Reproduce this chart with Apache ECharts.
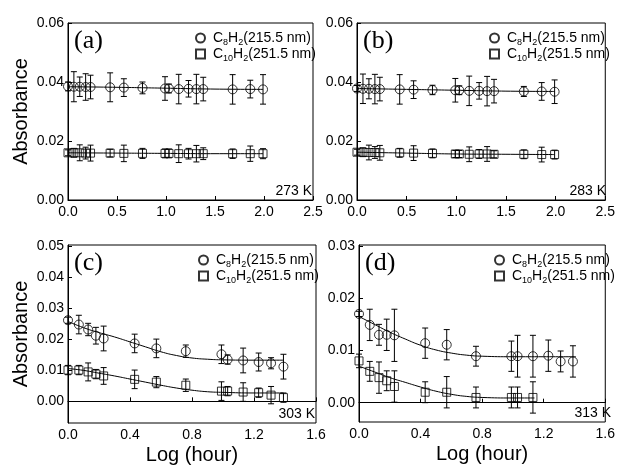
<!DOCTYPE html>
<html>
<head>
<meta charset="utf-8">
<script src="https://cdn.jsdelivr.net/npm/echarts@6/dist/echarts.min.js"></script>
<style>
  html, body { margin: 0; padding: 0; background: #fff; }
  #chart { width: 618px; height: 466px; }
</style>
</head>
<body>
<div id="chart"></div>
<script>
// x positions (log hour)
const xTop = [0, 0.06, 0.12, 0.18, 0.23, 0.43, 0.57, 0.76, 0.99, 1.03, 1.13, 1.23, 1.31, 1.38, 1.68, 1.86, 1.99];
const xBottom = [0, 0.07, 0.13, 0.18, 0.23, 0.43, 0.57, 0.76, 0.99, 1.03, 1.13, 1.23, 1.31, 1.39];

// (a) 273 K
const a_c8 = [0.0385, 0.0384, 0.0384, 0.0383, 0.0383, 0.0382, 0.0381, 0.0380, 0.0378, 0.0378, 0.0376, 0.0377, 0.0376, 0.0376, 0.0375, 0.0376, 0.0375];
const a_c8_err = [0.0015, 0.0051, 0.0033, 0.0045, 0.004, 0.0049, 0.003, 0.002, 0.004, 0.0015, 0.005, 0.0028, 0.005, 0.004, 0.005, 0.003, 0.005];
const a_c10 = [0.0160, 0.0160, 0.0160, 0.0159, 0.0159, 0.0159, 0.0158, 0.0158, 0.0158, 0.0158, 0.0157, 0.0157, 0.0157, 0.0157, 0.0157, 0.0157, 0.0157];
const a_c10_err = [0.001, 0.0015, 0.0027, 0.002, 0.0027, 0.0013, 0.0028, 0.0017, 0.0015, 0.0015, 0.003, 0.0018, 0.0028, 0.002, 0.0016, 0.0026, 0.0017];

// (b) 283 K
const b_c8 = [0.0378, 0.0377, 0.0377, 0.0376, 0.0376, 0.0375, 0.0374, 0.0373, 0.0372, 0.0372, 0.0370, 0.0370, 0.0369, 0.0369, 0.0368, 0.0368, 0.0367];
const b_c8_err = [0.001, 0.005, 0.0034, 0.005, 0.004, 0.005, 0.003, 0.0016, 0.004, 0.0015, 0.005, 0.0028, 0.005, 0.004, 0.0017, 0.003, 0.004];
const b_c10 = [0.0162, 0.0162, 0.0161, 0.0161, 0.0160, 0.0160, 0.0159, 0.0158, 0.0156, 0.0156, 0.0155, 0.0156, 0.0156, 0.0155, 0.0155, 0.0154, 0.0154];
const b_c10_err = [0.001, 0.0015, 0.0025, 0.002, 0.0025, 0.0015, 0.0025, 0.0015, 0.0012, 0.0012, 0.0025, 0.0015, 0.0025, 0.0012, 0.0015, 0.0025, 0.0015];

// (c) 303 K
const c_c8 = [0.0262, 0.0248, 0.0232, 0.0212, 0.0203, 0.0187, 0.0171, 0.0162, 0.0152, 0.0135, 0.0132, 0.0127, 0.0123, 0.0112];
const c_c8_err = [0.001, 0.003, 0.002, 0.0027, 0.004, 0.003, 0.003, 0.002, 0.003, 0.0015, 0.004, 0.0029, 0.0018, 0.004];
const c_c10 = [0.0101, 0.0101, 0.0095, 0.0088, 0.0082, 0.0071, 0.0062, 0.0052, 0.0033, 0.0033, 0.0030, 0.0028, 0.0020, 0.0012];
const c_c10_err = [0.0015, 0.0015, 0.0029, 0.0015, 0.0027, 0.003, 0.0018, 0.002, 0.003, 0.0015, 0.003, 0.0015, 0.0028, 0.0015];

// (d) 313 K
const d_c8 = [0.0170, 0.0149, 0.0130, 0.0130, 0.0129, 0.0114, 0.0111, 0.0089, 0.0089, 0.0089, 0.0089, 0.0090, 0.0079, 0.0079];
const d_c8_err = [0.0005, 0.003, 0.002, 0.003, 0.005, 0.0029, 0.0029, 0.0019, 0.0029, 0.004, 0.004, 0.003, 0.002, 0.003];
const d_c10 = [0.0080, 0.0060, 0.0048, 0.0042, 0.0031, 0.0020, 0.0020, 0.0010, 0.0010, 0.0010, 0.0010];
const d_c10_err = [0.0013, 0.0019, 0.003, 0.0019, 0.003, 0.002, 0.003, 0.002, 0.002, 0.002, 0.003];

// fitted curves
const fitTopX = [0, 0.5, 1.0, 1.5, 1.99];
const a_fit_c8 = [0.0384, 0.0382, 0.0379, 0.0376, 0.0375];
const a_fit_c10 = [0.0160, 0.0159, 0.0158, 0.0157, 0.0157];
const b_fit_c8 = [0.0378, 0.0375, 0.0372, 0.0369, 0.0368];
const b_fit_c10 = [0.0162, 0.0159, 0.0156, 0.0155, 0.0154];
const fitBottomX = [0, 0.1, 0.2, 0.3, 0.4, 0.5, 0.6, 0.7, 0.8, 0.9, 1.0, 1.2, 1.39];
const c_fit_c8 = [0.0258, 0.0238, 0.0222, 0.0208, 0.0192, 0.0176, 0.0160, 0.0148, 0.0140, 0.0136, 0.0134, 0.0133, 0.0133];
const c_fit_c10 = [0.0106, 0.0100, 0.0091, 0.0082, 0.0072, 0.0062, 0.0052, 0.0043, 0.0036, 0.0031, 0.0029, 0.0027, 0.0027];
const d_fitX_c8 = [0, 0.1, 0.2, 0.3, 0.4, 0.5, 0.6, 0.7, 0.8, 1.0, 1.2, 1.41];
const d_fit_c8 = [0.0165, 0.0150, 0.0135, 0.0122, 0.0110, 0.0101, 0.0095, 0.0091, 0.0089, 0.0088, 0.0088, 0.0088];
const d_fitX_c10 = [0, 0.1, 0.2, 0.3, 0.4, 0.5, 0.6, 0.7, 0.8, 1.0, 1.14];
const d_fit_c10 = [0.0070, 0.0059, 0.0048, 0.0039, 0.0030, 0.0022, 0.0016, 0.0012, 0.0010, 0.0009, 0.0009];

// tick labels
const yTicksTop = [0, 0.02, 0.04, 0.06];
const yTicksC = [0, 0.01, 0.02, 0.03, 0.04, 0.05];
const yTicksD = [0, 0.01, 0.02, 0.03];

const font = 'Liberation Sans, Arial, sans-serif';

const pairs = (xs, ys) => ys.map((v, i) => [xs[i], v]);
const errs = (xs, ys, es) => ys.map((v, i) => [xs[i], v - es[i], v + es[i]]);

const panels = [
    { grid: { left: 68, top: 23, width: 245, height: 177 }, xs: xTop, xmax: 2.5, xint: 0.5,
      ymin: 0, ymax: 0.06, yticks: yTicksTop, c8: a_c8, c8e: a_c8_err, c10: a_c10, c10e: a_c10_err,
      f8x: fitTopX, f8: a_fit_c8, f10x: fitTopX, f10: a_fit_c10, label: '(a)', temp: '273 K', ylab: true, xlab: false },
    { grid: { left: 357, top: 23, width: 250, height: 177 }, xs: xTop, xmax: 2.5, xint: 0.5,
      ymin: 0, ymax: 0.06, yticks: yTicksTop, c8: b_c8, c8e: b_c8_err, c10: b_c10, c10e: b_c10_err,
      f8x: fitTopX, f8: b_fit_c8, f10x: fitTopX, f10: b_fit_c10, label: '(b)', temp: '283 K', ylab: false, xlab: false },
    { grid: { left: 68, top: 245, width: 248, height: 178 }, xs: xBottom, xmax: 1.6, xint: 0.4,
      ymin: -0.007, ymax: 0.0505, yticks: yTicksC, c8: c_c8, c8e: c_c8_err, c10: c_c10, c10e: c_c10_err,
      f8x: fitBottomX, f8: c_fit_c8, f10x: fitBottomX, f10: c_fit_c10, label: '(c)', temp: '303 K', ylab: true, xlab: true },
    { grid: { left: 359, top: 245, width: 253, height: 177 }, xs: xBottom, xmax: 1.6, xint: 0.4,
      ymin: -0.0037, ymax: 0.0302, yticks: yTicksD, c8: d_c8, c8e: d_c8_err, c10: d_c10, c10e: d_c10_err,
      f8x: d_fitX_c8, f8: d_fit_c8, f10x: d_fitX_c10, f10: d_fit_c10, label: '(d)', temp: '313 K', ylab: false, xlab: true }
];

// error bar drawn as vertical line with caps
const renderErr = (params, api) => {
    const x = api.value(0);
    const lo = api.coord([x, api.value(1)]);
    const hi = api.coord([x, api.value(2)]);
    const w = 3;
    const st = { stroke: '#000', lineWidth: 1 };
    return {
        type: 'group',
        children: [
            { type: 'line', shape: { x1: hi[0], y1: hi[1], x2: lo[0], y2: lo[1] }, style: st },
            { type: 'line', shape: { x1: hi[0] - w, y1: hi[1], x2: hi[0] + w, y2: hi[1] }, style: st },
            { type: 'line', shape: { x1: lo[0] - w, y1: lo[1], x2: lo[0] + w, y2: lo[1] }, style: st }
        ]
    };
};

const option = { animation: false, grid: [], xAxis: [], yAxis: [], series: [], legend: [], graphic: [] };

panels.forEach((p, i) => {
    option.grid.push(Object.assign({ show: true, borderColor: '#000', borderWidth: 1, backgroundColor: 'transparent' }, p.grid));
    option.xAxis.push({
        type: 'value', gridIndex: i, min: 0, max: p.xmax, interval: p.xint,
        name: p.xlab ? 'Log (hour)' : '', nameLocation: 'middle', nameGap: 22,
        nameTextStyle: { fontFamily: font, fontSize: 20, color: '#000' },
        axisLine: { lineStyle: { color: '#000', width: 1 } },
        axisTick: { inside: true, length: 4, lineStyle: { color: '#000' } },
        axisLabel: { fontFamily: font, fontSize: 14, color: '#000', margin: 5, formatter: v => v.toFixed(1) },
        splitLine: { show: false }
    });
    option.yAxis.push({
        type: 'value', gridIndex: i, min: p.ymin, max: p.ymax,
        name: p.ylab ? 'Absorbance' : '', nameLocation: 'middle', nameGap: 37,
        nameTextStyle: { fontFamily: font, fontSize: 20, color: '#000' },
        axisLine: { lineStyle: { color: '#000', width: 1 } },
        axisTick: { inside: true, length: 4, lineStyle: { color: '#000' }, customValues: p.yticks },
        axisLabel: { fontFamily: font, fontSize: 14, color: '#000', margin: 4, customValues: p.yticks, formatter: v => v.toFixed(2) },
        splitLine: { show: false }
    });
    const base = { xAxisIndex: i, yAxisIndex: i };
    option.series.push(
        Object.assign({ type: 'custom', name: 'err8', renderItem: renderErr, encode: { x: 0, y: [1, 2] }, clip: false, data: errs(p.xs, p.c8, p.c8e), z: 2 }, base),
        Object.assign({ type: 'custom', name: 'err10', renderItem: renderErr, encode: { x: 0, y: [1, 2] }, clip: false, data: errs(p.xs, p.c10, p.c10e), z: 2 }, base),
        Object.assign({ type: 'line', name: 'fit8', data: pairs(p.f8x, p.f8), smooth: true, showSymbol: false, clip: false, lineStyle: { color: '#000', width: 1 }, z: 2 }, base),
        Object.assign({ type: 'line', name: 'fit10', data: pairs(p.f10x, p.f10), smooth: true, showSymbol: false, clip: false, lineStyle: { color: '#000', width: 1 }, z: 2 }, base),
        Object.assign({ type: 'scatter', name: 'C8H2', symbol: 'circle', symbolSize: 9, clip: false, data: pairs(p.xs, p.c8),
            itemStyle: { color: 'rgba(0,0,0,0)', borderColor: '#000', borderWidth: 1 }, z: 3 }, base),
        Object.assign({ type: 'scatter', name: 'C10H2', symbol: 'rect', symbolSize: 8, clip: false, data: pairs(p.xs, p.c10),
            itemStyle: { color: 'rgba(0,0,0,0)', borderColor: '#000', borderWidth: 1 }, z: 3 }, base)
    );
    option.legend.push({
        data: ['C8H2', 'C10H2'], orient: 'vertical', selectedMode: false,
        left: p.grid.left + p.grid.width - 123, top: p.grid.top + 3,
        itemWidth: 9, itemHeight: 9, itemGap: 0,
        formatter: n => n === 'C8H2' ? '{p|}{a|C}{b|8}{a|H}{b|2}{a|(215.5 nm)}' : '{p|}{a|C}{b|10}{a|H}{b|2}{a|(251.5 nm)}',
        textStyle: {
            rich: {
                p: { width: 3, lineHeight: 18 },
                a: { fontFamily: font, fontSize: 14, color: '#000', lineHeight: 18 },
                b: { fontFamily: font, fontSize: 9, color: '#000', lineHeight: 18, verticalAlign: 'bottom' }
            }
        }
    });
    option.graphic.push(
        { type: 'text', x: p.grid.left + 6, y: p.grid.top + 18, style: { text: p.label, fontFamily: 'Liberation Serif, Times New Roman, serif', fontSize: 26, fill: '#000', verticalAlign: 'middle' } },
        { type: 'text', x: p.grid.left + p.grid.width - 1, y: p.grid.top + p.grid.height - 9, style: { text: p.temp, fontFamily: font, fontSize: 14, fill: '#000', align: 'right', verticalAlign: 'middle' } }
    );
});

const chart = echarts.init(document.getElementById('chart'));
chart.setOption(option);
</script>
</body>
</html>
